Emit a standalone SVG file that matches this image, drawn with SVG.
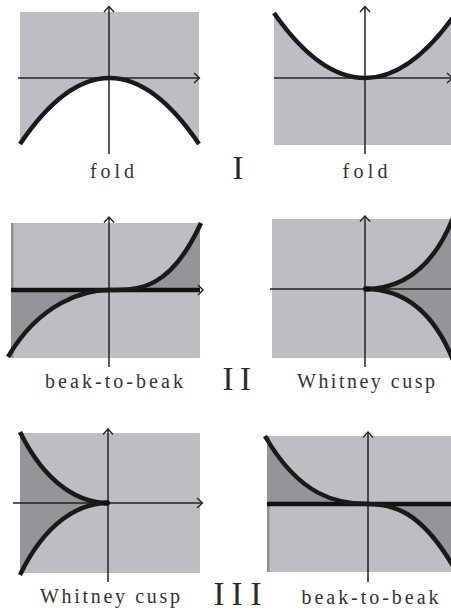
<svg xmlns="http://www.w3.org/2000/svg" width="451" height="611" viewBox="0 0 451 611">
<style>
.bg{fill:#bdbec1}
.dk{fill:#949598}
.edge{fill:#8e8f92}
.curve{fill:none;stroke:#1a1a1a;stroke-width:4.5;stroke-linecap:butt}
.axis{fill:none;stroke:#222;stroke-width:1.5}
.thick{fill:none;stroke:#111;stroke-width:4.5}
.arr{fill:none;stroke:#222;stroke-width:1.4}
.lbl{font-family:"Liberation Serif","Noto Serif CJK SC","Noto Sans CJK SC",serif;font-size:20px;fill:#333;text-anchor:middle}
.num{font-family:"Liberation Serif",serif;font-size:33px;fill:#2a2a2a;text-anchor:middle}
</style>
<defs>
<clipPath id="c3"><rect x="11" y="223" width="189" height="135"/></clipPath>
<clipPath id="c4"><rect x="272" y="219" width="179" height="139"/></clipPath>
<clipPath id="c5"><rect x="20" y="433" width="180" height="140"/></clipPath>
<clipPath id="c6"><rect x="267" y="436" width="184" height="136"/></clipPath>
</defs>

<g id="panel-fold-max">
<path class="bg" d="M20,12 H199 V144 Q109.5,12 20,144 Z"/>
<path class="axis" d="M18,78 H199"/>
<path class="arr" d="M194,73 L199.5,78 L194,83"/>
<path class="axis" d="M109,7 V154"/>
<path class="arr" d="M104,12 L109,6.5 L114,12"/>
<path class="curve" d="M20,144 Q109.5,12 199,144"/>
<text class="lbl" x="112" y="178" textLength="44" lengthAdjust="spacing">fold</text>
</g>

<g id="panel-fold-min">
<path class="bg" d="M274,13 Q365,143 456,13 V145 H274 Z"/>
<path class="axis" d="M274,78 H452"/>
<path class="arr" d="M447,73 L452.5,78 L447,83"/>
<path class="axis" d="M365,7 V154"/>
<path class="arr" d="M360,12 L365,6.5 L370,12"/>
<path class="curve" d="M274,13 Q365,143 456,13"/>
<text class="lbl" x="365" y="178" textLength="45" lengthAdjust="spacing">fold</text>
</g>

<g id="label-I"><text class="num" x="238" y="179">I</text></g>

<g id="panel-beak-1">
<rect class="bg" x="11" y="223" width="189" height="135"/>
<rect class="edge" x="11" y="223" width="2.5" height="135"/>
<g clip-path="url(#c3)">
<path class="dk" d="M109,290 C85,290 40,302 8,357 V290 Z"/>
<path class="dk" d="M109,290 C139.7,290 170.3,290 201,223 V290 Z"/>
</g>
<path class="axis" d="M109,217 V367"/>
<path class="arr" d="M104,222.5 L109,217 L114,222.5"/>
<path class="thick" d="M11,290 H200"/>
<path class="arr" d="M198,285 L203,290 L198,295"/>
<path class="curve" d="M109,290 C85,290 40,302 8,357"/>
<path class="curve" d="M109,290 C139.7,290 170.3,290 201,223"/>
<text class="lbl" x="114" y="388" textLength="138" lengthAdjust="spacing">beak-to-beak</text>
</g>

<g id="panel-whitney-1">
<rect class="bg" x="272" y="219" width="179" height="139"/>
<g clip-path="url(#c4)">
<path class="dk" d="M365,289 C395,289 430,275 453,218 V360 C430,303 395,289 365,289 Z"/>
</g>
<path class="axis" d="M270,289 H451"/>
<path class="axis" d="M365,216 V367"/>
<path class="arr" d="M360,221.5 L365,216 L370,221.5"/>
<path class="curve" d="M365,289 C395,289 430,275 453,218"/>
<path class="curve" d="M365,289 C395,289 430,303 453,360"/>
<rect x="363" y="286.5" width="8" height="5" rx="2" fill="#111"/>
<text class="lbl" x="366" y="388" textLength="138" lengthAdjust="spacing">Whitney cusp</text>
</g>

<g id="label-II"><text class="num" x="228 245.5" y="390">II</text></g>

<g id="panel-whitney-2">
<rect class="bg" x="20" y="433" width="180" height="140"/>
<g clip-path="url(#c5)">
<path class="dk" d="M108,503 C80,503 46,485 20,432 V575 C46,521 80,503 108,503 Z"/>
</g>
<path class="axis" d="M13,503 H202"/>
<path class="arr" d="M197,498 L202.5,503 L197,508"/>
<path class="axis" d="M108,429 V582"/>
<path class="arr" d="M103,434.5 L108,429 L113,434.5"/>
<path class="curve" d="M108,503 C80,503 46,485 20,432"/>
<path class="curve" d="M108,503 C80,503 46,521 20,575"/>
<rect x="102" y="500.5" width="8" height="5" rx="2" fill="#111"/>
<text class="lbl" x="110" y="603" textLength="140" lengthAdjust="spacing">Whitney cusp</text>
</g>

<g id="label-III"><text class="num" x="219 237 256" y="605">III</text></g>

<g id="panel-beak-2">
<rect class="bg" x="267" y="436" width="184" height="136"/>
<rect class="edge" x="267" y="436" width="2.5" height="136"/>
<g clip-path="url(#c6)">
<path class="dk" d="M368,504 C338,504 300,497 265,436 V504 Z"/>
<path class="dk" d="M368,504 C392,504 420,510 453,566 V504 Z"/>
</g>
<path class="axis" d="M368,432 V582"/>
<path class="arr" d="M363,437.5 L368,432 L373,437.5"/>
<path class="thick" d="M267,504 H451"/>
<path class="curve" d="M368,504 C338,504 300,497 265,436"/>
<path class="curve" d="M368,504 C392,504 420,510 453,566"/>
<text class="lbl" x="370" y="604" textLength="137" lengthAdjust="spacing">beak-to-beak</text>
</g>
</svg>
